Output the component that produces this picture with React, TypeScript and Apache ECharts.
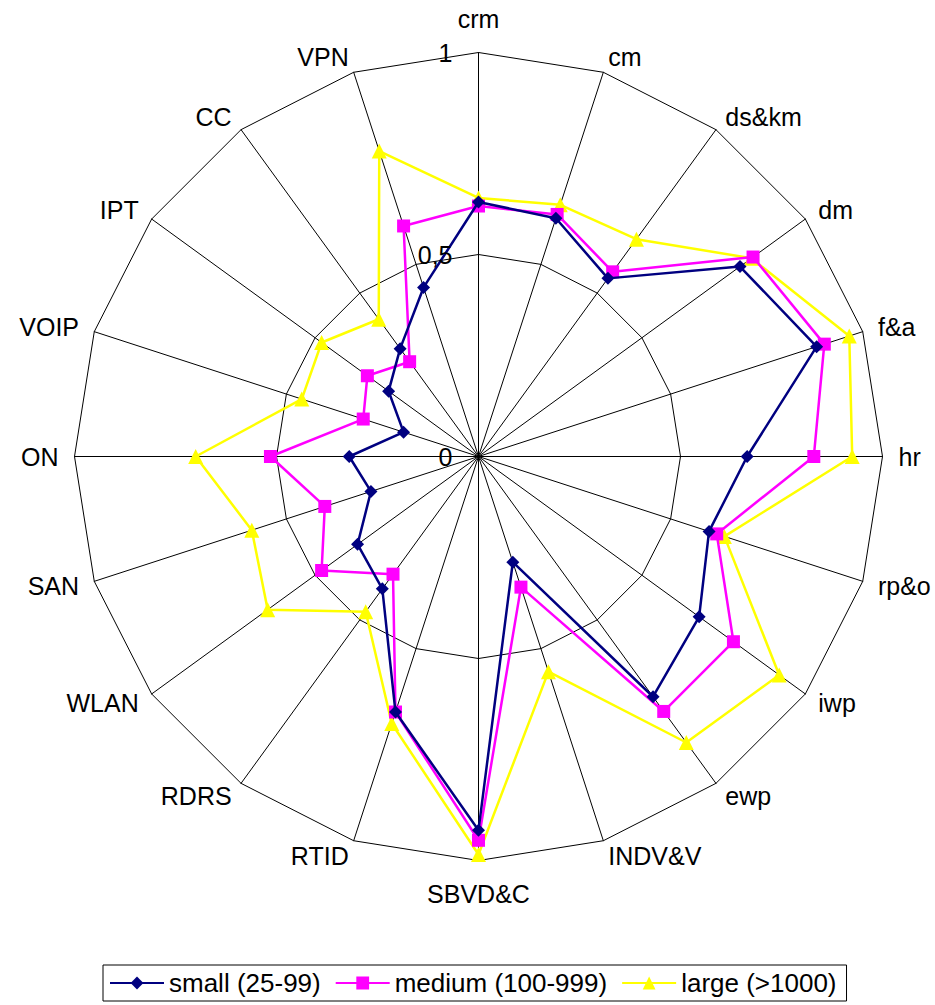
import React, { useEffect, useRef } from "react";
import * as echarts from "echarts";

const indicators = ["crm", "cm", "ds&km", "dm", "f&a", "hr", "rp&o", "iwp", "ewp", "INDV&V", "SBVD&C", "RTID", "RDRS", "WLAN", "SAN", "ON", "VOIP", "IPT", "CC", "VPN"];
const small = [0.63, 0.62, 0.545, 0.80, 0.88, 0.665, 0.60, 0.675, 0.735, 0.275, 0.925, 0.665, 0.405, 0.37, 0.28, 0.32, 0.195, 0.275, 0.33, 0.44];
const medium = [0.62, 0.63, 0.565, 0.84, 0.90, 0.83, 0.62, 0.78, 0.78, 0.34, 0.95, 0.665, 0.36, 0.48, 0.40, 0.515, 0.30, 0.34, 0.29, 0.60];
const large = [0.64, 0.655, 0.665, 0.835, 0.965, 0.925, 0.64, 0.92, 0.875, 0.56, 0.985, 0.695, 0.475, 0.645, 0.59, 0.70, 0.46, 0.48, 0.42, 0.795];
const tickValues = [0, 0.5, 1];
const tickLabels = ["0", "0,5", "1"];
const seriesNames = ["small (25-99)", "medium (100-999)", "large (>1000)"];
const seriesColors = ["#000080", "#FF00FF", "#FFFF00"];
const seriesSymbols = ["diamond", "rect", "triangle"];
const symbolSizes = [13, 13, 15];

const FONT = '"Liberation Sans", Arial, sans-serif';
const CX = 478.5;
const CY = 456.5;
const R = 404;

// ECharts lays radar indicators counter-clockwise; reorder so the chart reads clockwise.
function clockwise<T>(arr: T[]): T[] {
  return [arr[0], ...arr.slice(1).reverse()];
}

export default function App() {
  const ref = useRef<HTMLDivElement>(null);
  useEffect(() => {
    if (!ref.current) return;
    const chart = echarts.init(ref.current, null, { renderer: "svg" });
    const dataSets = [small, medium, large];
    const radarSeries = dataSets.map((d, i) => ({
      type: "radar",
      name: seriesNames[i],
      symbol: seriesSymbols[i],
      symbolSize: symbolSizes[i],
      lineStyle: { color: seriesColors[i], width: 2.5 },
      itemStyle: { color: seriesColors[i] },
      data: [{ value: clockwise(d), name: seriesNames[i] }],
      z: 2 + (2 - i),
    }));
    const dummySeries = seriesNames.map((n, i) => ({
      type: "line",
      name: n,
      data: [],
      symbol: seriesSymbols[i],
      symbolSize: symbolSizes[i] + 2,
      lineStyle: { color: seriesColors[i], width: 2.5 },
      itemStyle: { color: seriesColors[i] },
    }));
    const option = {
      animation: false,
      textStyle: { fontFamily: FONT },
      grid: { left: 0, top: 0, width: 1, height: 1, show: false },
      xAxis: { show: false, type: "value" },
      yAxis: { show: false, type: "value" },
      legend: {
        data: seriesNames,
        left: 103,
        top: 965,
        itemWidth: 54,
        itemHeight: 16,
        itemGap: 14,
        padding: [5, 10, 5, 6],
        borderColor: "#000",
        borderWidth: 1,
        textStyle: { fontSize: 26, color: "#000", fontFamily: FONT },
      },
      radar: {
        center: [CX, CY],
        radius: R,
        shape: "polygon",
        splitNumber: 2,
        startAngle: 90,
        indicator: clockwise(indicators).map((n) => ({ name: n, min: 0, max: 1 })),
        axisName: { color: "#000", fontSize: 25, fontFamily: FONT, padding: [5, 0, 5, 0] },
        nameGap: 16,
        splitLine: { lineStyle: { color: "#000", width: 1 } },
        splitArea: { show: false },
        axisLine: { lineStyle: { color: "#000", width: 1 } },
        axisTick: { show: false },
        axisLabel: { show: false },
      },
      graphic: tickValues.map((v, i) => ({
        type: "text",
        x: CX - 26,
        y: CY - v * R,
        style: {
          text: tickLabels[i],
          fontSize: 25,
          fontFamily: FONT,
          fill: "#000",
          align: "right",
          verticalAlign: "middle",
        },
        z: 10,
      })),
      series: [...dummySeries, ...radarSeries],
    };
    chart.setOption(option as any);
    return () => chart.dispose();
  }, []);
  return (
    <div
      ref={ref}
      style={{ position: "absolute", left: 0, top: 0, width: 935, height: 1005, background: "#fff" }}
    />
  );
}
